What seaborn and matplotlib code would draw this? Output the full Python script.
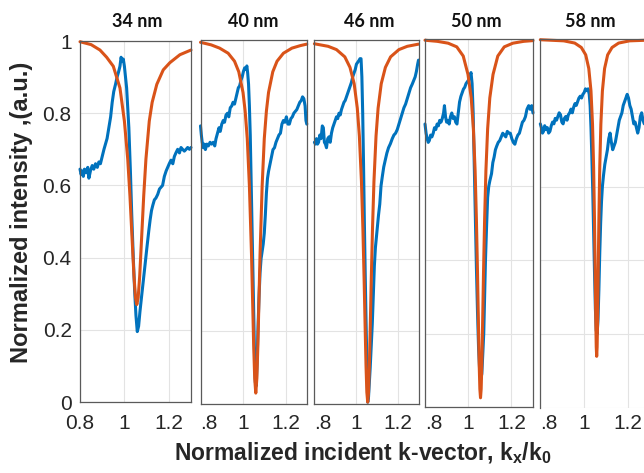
import matplotlib
matplotlib.use("Agg")
import matplotlib.pyplot as plt
import seaborn as sns

# ---------------- data ----------------
titles = ["34 nm", "40 nm", "46 nm", "50 nm", "58 nm"]

# measured (blue) curves
k1b = [0.800, 0.805, 0.810, 0.815, 0.820, 0.828, 0.835, 0.840, 0.847, 0.855, 0.862, 0.870, 0.878, 0.885, 0.892,
       0.900, 0.908, 0.915, 0.922, 0.930, 0.938, 0.945, 0.952, 0.960, 0.967, 0.974, 0.980, 0.985, 0.990, 0.995,
       1.000, 1.010, 1.020, 1.027, 1.033, 1.040, 1.046, 1.052, 1.058, 1.064, 1.070, 1.077, 1.085, 1.093, 1.100,
       1.110, 1.116, 1.122, 1.128, 1.135, 1.142, 1.150, 1.158, 1.165, 1.172, 1.180, 1.188, 1.195, 1.202, 1.210,
       1.218, 1.225, 1.232, 1.240, 1.248, 1.255, 1.262, 1.270, 1.278, 1.285, 1.293, 1.300]
v1b = [0.645, 0.630, 0.640, 0.625, 0.645, 0.635, 0.650, 0.620, 0.640, 0.655, 0.645, 0.660, 0.650, 0.665, 0.660,
       0.680, 0.700, 0.715, 0.730, 0.760, 0.790, 0.830, 0.860, 0.880, 0.900, 0.915, 0.930, 0.955, 0.945, 0.950,
       0.930, 0.870, 0.760, 0.640, 0.520, 0.400, 0.310, 0.240, 0.195, 0.210, 0.250, 0.290, 0.335, 0.380, 0.420,
       0.475, 0.505, 0.530, 0.545, 0.560, 0.565, 0.575, 0.590, 0.595, 0.600, 0.625, 0.640, 0.650, 0.660, 0.670,
       0.660, 0.680, 0.690, 0.700, 0.690, 0.705, 0.700, 0.695, 0.700, 0.705, 0.700, 0.705]

k2b = [0.800, 0.804, 0.808, 0.813, 0.818, 0.823, 0.830, 0.837, 0.845, 0.852, 0.860, 0.867, 0.873, 0.880, 0.887,
       0.893, 0.900, 0.907, 0.913, 0.920, 0.927, 0.933, 0.940, 0.947, 0.953, 0.960, 0.966, 0.972, 0.978, 0.984,
       0.990, 0.996, 1.002, 1.008, 1.013, 1.018, 1.022, 1.026, 1.030, 1.034, 1.038, 1.042, 1.046, 1.050, 1.054,
       1.058, 1.062, 1.066, 1.070, 1.075, 1.080, 1.085, 1.090, 1.095, 1.100, 1.105, 1.110, 1.115, 1.120, 1.127,
       1.134, 1.141, 1.148, 1.155, 1.162, 1.169, 1.176, 1.183, 1.190, 1.197, 1.204, 1.211, 1.218, 1.225, 1.232,
       1.239, 1.246, 1.253, 1.260, 1.267, 1.274, 1.280, 1.286, 1.292, 1.296, 1.300]
v2b = [0.765, 0.740, 0.720, 0.705, 0.715, 0.700, 0.715, 0.710, 0.720, 0.715, 0.720, 0.710, 0.730, 0.745, 0.760,
       0.750, 0.770, 0.780, 0.775, 0.795, 0.800, 0.790, 0.815, 0.820, 0.830, 0.825, 0.840, 0.855, 0.870, 0.875,
       0.890, 0.900, 0.915, 0.925, 0.920, 0.930, 0.910, 0.880, 0.820, 0.740, 0.620, 0.500, 0.380, 0.260, 0.140,
       0.060, 0.050, 0.110, 0.200, 0.290, 0.360, 0.400, 0.420, 0.440, 0.470, 0.520, 0.580, 0.620, 0.640, 0.660,
       0.680, 0.700, 0.705, 0.720, 0.730, 0.740, 0.745, 0.770, 0.780, 0.775, 0.790, 0.770, 0.770, 0.785, 0.790,
       0.800, 0.805, 0.810, 0.820, 0.830, 0.835, 0.845, 0.840, 0.820, 0.780, 0.770]

k3b = [0.800, 0.805, 0.810, 0.815, 0.820, 0.826, 0.832, 0.838, 0.843, 0.848, 0.853, 0.858, 0.864, 0.870, 0.876,
       0.882, 0.888, 0.894, 0.900, 0.906, 0.912, 0.918, 0.924, 0.930, 0.936, 0.942, 0.948, 0.954, 0.960, 0.966,
       0.972, 0.978, 0.984, 0.990, 0.996, 1.002, 1.008, 1.014, 1.019, 1.024, 1.028, 1.032, 1.036, 1.040, 1.044,
       1.048, 1.052, 1.056, 1.060, 1.064, 1.068, 1.073, 1.078, 1.083, 1.088, 1.093, 1.098, 1.103, 1.108, 1.114,
       1.120, 1.126, 1.133, 1.140, 1.148, 1.156, 1.165, 1.174, 1.182, 1.190, 1.198, 1.206, 1.214, 1.222, 1.230,
       1.238, 1.246, 1.254, 1.262, 1.270, 1.277, 1.284, 1.290, 1.296, 1.300]
v3b = [0.720, 0.715, 0.730, 0.715, 0.720, 0.740, 0.730, 0.765, 0.760, 0.720, 0.715, 0.705, 0.730, 0.735, 0.720,
       0.745, 0.760, 0.770, 0.780, 0.790, 0.785, 0.800, 0.795, 0.810, 0.820, 0.830, 0.835, 0.845, 0.855, 0.865,
       0.875, 0.885, 0.900, 0.910, 0.920, 0.935, 0.940, 0.945, 0.950, 0.950, 0.900, 0.800, 0.660, 0.500, 0.360,
       0.230, 0.110, 0.005, 0.020, 0.060, 0.100, 0.160, 0.220, 0.300, 0.380, 0.430, 0.460, 0.490, 0.520, 0.550,
       0.600, 0.625, 0.652, 0.670, 0.690, 0.705, 0.716, 0.730, 0.740, 0.745, 0.755, 0.770, 0.785, 0.800, 0.815,
       0.825, 0.840, 0.855, 0.870, 0.880, 0.890, 0.900, 0.915, 0.935, 0.946]

k4b = [0.800, 0.805, 0.810, 0.815, 0.820, 0.826, 0.832, 0.838, 0.844, 0.850, 0.856, 0.862, 0.868, 0.874, 0.880,
       0.886, 0.890, 0.895, 0.900, 0.906, 0.912, 0.918, 0.924, 0.930, 0.936, 0.942, 0.948, 0.954, 0.960, 0.966,
       0.972, 0.978, 0.984, 0.990, 0.996, 1.002, 1.008, 1.013, 1.018, 1.023, 1.028, 1.033, 1.038, 1.043, 1.048,
       1.053, 1.058, 1.063, 1.068, 1.072, 1.076, 1.080, 1.085, 1.090, 1.095, 1.100, 1.108, 1.114, 1.120, 1.126,
       1.132, 1.139, 1.146, 1.153, 1.160, 1.167, 1.174, 1.181, 1.188, 1.195, 1.202, 1.209, 1.216, 1.223, 1.230,
       1.237, 1.244, 1.251, 1.258, 1.265, 1.272, 1.280, 1.287, 1.294, 1.300]
v4b = [0.770, 0.745, 0.730, 0.720, 0.725, 0.740, 0.735, 0.745, 0.760, 0.755, 0.770, 0.765, 0.780, 0.775, 0.785,
       0.800, 0.820, 0.790, 0.775, 0.780, 0.770, 0.790, 0.800, 0.785, 0.790, 0.775, 0.770, 0.800, 0.830, 0.845,
       0.855, 0.865, 0.870, 0.880, 0.885, 0.890, 0.900, 0.910, 0.880, 0.800, 0.660, 0.520, 0.380, 0.260, 0.160,
       0.100, 0.075, 0.090, 0.150, 0.200, 0.300, 0.400, 0.490, 0.570, 0.600, 0.615, 0.635, 0.665, 0.680, 0.700,
       0.710, 0.720, 0.725, 0.735, 0.745, 0.740, 0.735, 0.750, 0.745, 0.745, 0.730, 0.720, 0.715, 0.730, 0.740,
       0.745, 0.760, 0.775, 0.780, 0.790, 0.810, 0.820, 0.810, 0.820, 0.800]

k5b = [0.800, 0.805, 0.810, 0.815, 0.820, 0.826, 0.832, 0.838, 0.844, 0.850, 0.856, 0.862, 0.868, 0.874, 0.880,
       0.886, 0.892, 0.898, 0.904, 0.910, 0.916, 0.922, 0.928, 0.934, 0.940, 0.946, 0.952, 0.958, 0.964, 0.970,
       0.976, 0.982, 0.988, 0.994, 1.000, 1.006, 1.012, 1.018, 1.023, 1.027, 1.031, 1.035, 1.039, 1.043, 1.047,
       1.051, 1.055, 1.059, 1.063, 1.067, 1.071, 1.075, 1.079, 1.083, 1.088, 1.094, 1.100, 1.106, 1.112, 1.118,
       1.124, 1.130, 1.136, 1.142, 1.148, 1.154, 1.160, 1.166, 1.172, 1.178, 1.184, 1.190, 1.196, 1.202, 1.208,
       1.214, 1.220, 1.226, 1.232, 1.238, 1.244, 1.250, 1.256, 1.262, 1.268, 1.274, 1.280, 1.290, 1.300]
v5b = [0.770, 0.760, 0.745, 0.750, 0.765, 0.755, 0.760, 0.745, 0.750, 0.765, 0.775, 0.770, 0.785, 0.780, 0.790,
       0.800, 0.795, 0.775, 0.770, 0.785, 0.790, 0.780, 0.795, 0.800, 0.810, 0.800, 0.815, 0.825, 0.820, 0.830,
       0.840, 0.845, 0.840, 0.850, 0.855, 0.865, 0.860, 0.865, 0.850, 0.820, 0.760, 0.680, 0.590, 0.480, 0.370,
       0.270, 0.210, 0.200, 0.240, 0.320, 0.420, 0.500, 0.560, 0.600, 0.630, 0.660, 0.680, 0.700, 0.730, 0.745,
       0.720, 0.700, 0.710, 0.720, 0.740, 0.760, 0.780, 0.790, 0.800, 0.820, 0.830, 0.840, 0.850, 0.840, 0.820,
       0.810, 0.790, 0.770, 0.775, 0.760, 0.745, 0.760, 0.790, 0.800, 0.780, 0.770, 0.780, 0.790, 0.800]

# simulated (orange) curves
k1o = [0.80, 0.85, 0.89, 0.92, 0.95, 0.98, 1.000, 1.015, 1.025, 1.035, 1.043, 1.050, 1.056, 1.062, 1.069,
       1.077, 1.087, 1.097, 1.112, 1.125, 1.146, 1.175, 1.205, 1.25, 1.30]
v1o = [0.998, 0.990, 0.975, 0.955, 0.930, 0.870, 0.778, 0.673, 0.571, 0.448, 0.350, 0.289, 0.270, 0.289, 0.350,
       0.448, 0.571, 0.673, 0.778, 0.830, 0.880, 0.920, 0.940, 0.962, 0.975]

k2o = [0.80, 0.85, 0.89, 0.93, 0.96, 0.98, 1.000, 1.010, 1.020, 1.030, 1.040, 1.045, 1.050, 1.055, 1.060,
       1.065, 1.070, 1.075, 1.080, 1.090, 1.100, 1.110, 1.120, 1.140, 1.160, 1.190, 1.230, 1.270, 1.300]
v2o = [0.995, 0.988, 0.979, 0.965, 0.943, 0.914, 0.857, 0.806, 0.730, 0.600, 0.410, 0.287, 0.164, 0.070, 0.030,
       0.070, 0.164, 0.287, 0.410, 0.600, 0.730, 0.806, 0.857, 0.914, 0.943, 0.965, 0.979, 0.986, 0.990]

k3o = [0.800, 0.866, 0.906, 0.946, 0.971, 0.991, 1.006, 1.016, 1.026, 1.033, 1.039, 1.044, 1.048, 1.052, 1.056,
       1.060, 1.064, 1.068, 1.073, 1.079, 1.086, 1.096, 1.106, 1.121, 1.141, 1.166, 1.206, 1.246, 1.300]
v3o = [0.991, 0.984, 0.975, 0.955, 0.926, 0.881, 0.814, 0.737, 0.612, 0.481, 0.338, 0.204, 0.104, 0.032, 0.005,
       0.032, 0.104, 0.204, 0.338, 0.481, 0.612, 0.737, 0.814, 0.881, 0.926, 0.955, 0.975, 0.984, 0.990]

k4o = [0.800, 0.857, 0.907, 0.947, 0.977, 0.999, 1.014, 1.024, 1.032, 1.038, 1.043, 1.047, 1.051, 1.054, 1.057,
       1.060, 1.063, 1.067, 1.071, 1.076, 1.082, 1.090, 1.100, 1.115, 1.137, 1.167, 1.207, 1.257, 1.300]
v4o = [0.998, 0.995, 0.990, 0.980, 0.955, 0.905, 0.841, 0.757, 0.643, 0.510, 0.368, 0.237, 0.114, 0.049, 0.025,
       0.049, 0.114, 0.237, 0.368, 0.510, 0.643, 0.757, 0.841, 0.905, 0.955, 0.980, 0.990, 0.995, 0.997]

k5o = [0.800, 0.907, 0.957, 0.987, 1.007, 1.021, 1.031, 1.038, 1.043, 1.047, 1.050, 1.053, 1.055, 1.057, 1.059,
       1.061, 1.064, 1.067, 1.071, 1.076, 1.083, 1.093, 1.107, 1.127, 1.157, 1.207, 1.300]
v5o = [0.998, 0.995, 0.989, 0.977, 0.957, 0.920, 0.859, 0.769, 0.653, 0.510, 0.372, 0.233, 0.165, 0.140, 0.165,
       0.233, 0.372, 0.510, 0.653, 0.769, 0.859, 0.920, 0.957, 0.977, 0.989, 0.995, 0.997]

x_ticks = [0.8, 1.0, 1.2]
first_xticklabels = ["0.8", "1", "1.2"]
other_xticklabels = [".8", "1", "1.2"]
y_ticks = [0, 0.2, 0.4, 0.6, 0.8, 1.0]
y_ticklabels = ["0", "0.2", "0.4", "0.6", "0.8", "1"]

blue_series = [(k1b, v1b), (k2b, v2b), (k3b, v3b), (k4b, v4b), (k5b, v5b)]
orange_series = [(k1o, v1o), (k2o, v2o), (k3o, v3o), (k4o, v4o), (k5o, v5o)]

# ---------------- styling / layout ----------------
sns.set_theme(style="white")
plt.rcParams["font.family"] = ["Liberation Sans", "DejaVu Sans"]
plt.rcParams["mathtext.fontset"] = "custom"
plt.rcParams["mathtext.rm"] = "Liberation Sans"
plt.rcParams["mathtext.bf"] = "Liberation Sans:bold"

W, H = 644, 473
fig = plt.figure(figsize=(W / 100, H / 100), dpi=100)
fig.patch.set_facecolor("white")

# panel boxes in pixels: left, right, top, bottom
boxes = [(80, 191, 41, 402), (200.5, 306.8, 40.5, 404), (314.4, 418.5, 40.5, 404),
         (425, 533, 39.5, 407), (540.3, 650, 39, 408)]
title_x = [137, 253, 369, 476, 590]
label_center_y = 423  # pixel row of x tick label centres

BLUE = "#0072BD"
ORANGE = "#D95319"
FRAME = "#5a5a5a"

for i, (l, r, t, b) in enumerate(boxes):
    ax = fig.add_axes([l / W, 1 - b / H, (r - l) / W, (b - t) / H])
    kb, vb = blue_series[i]
    ko, vo = orange_series[i]
    sns.lineplot(x=kb, y=vb, ax=ax, color=BLUE, linewidth=2.2, sort=False, estimator=None)
    sns.lineplot(x=ko, y=vo, ax=ax, color=ORANGE, linewidth=2.2, sort=False, estimator=None)
    ax.set_xlim(0.8, 1.3)
    ax.set_ylim(0, 1)
    ax.set_xticks(x_ticks)
    ax.set_yticks(y_ticks)
    ax.grid(True, color="#e3e3e3", linewidth=0.8)
    ax.set_axisbelow(True)
    for s in ax.spines.values():
        s.set_color(FRAME)
        s.set_linewidth(0.9)
    if i == 4:
        ax.spines["bottom"].set_visible(False)
    xpad = max((label_center_y - 8.5 - b) / 1.389, 1.0)
    ax.tick_params(direction="in", length=3, width=0.8, color=FRAME, labelsize=15,
                   labelcolor="#262626", top=False, right=False)
    ax.tick_params(axis="x", pad=xpad)
    if i == 0:
        ax.set_xticklabels(first_xticklabels)
        ax.set_yticklabels(y_ticklabels)
        ax.tick_params(axis="y", pad=6)
    else:
        ax.set_xticklabels(other_xticklabels)
        ax.xaxis.get_majorticklabels()[0].set_horizontalalignment("left")
        ax.set_yticklabels([])
    ax.set_xlabel("")
    ax.set_ylabel("")
    for ln in ax.lines:
        ln.set_clip_on(False)
    fig.text(title_x[i] / W, 1 - 21 / H, titles[i], ha="center", va="center",
             fontsize=13, fontweight="bold", family=["Lato", "DejaVu Sans"], color="#111111")

fig.text(22 / W, 1 - 212 / H, "Normalized intensity ,(a.u.)", rotation=90, ha="center", va="center",
         fontsize=17, fontweight="bold", color="#262626")
fig.text(363 / W, 1 - 453 / H, r"Normalized incident k-vector, k$_\mathbf{x}$/k$_\mathbf{0}$",
         ha="center", va="center", fontsize=16.5, fontweight="bold", color="#262626")

fig.savefig("out.png", dpi=100)
